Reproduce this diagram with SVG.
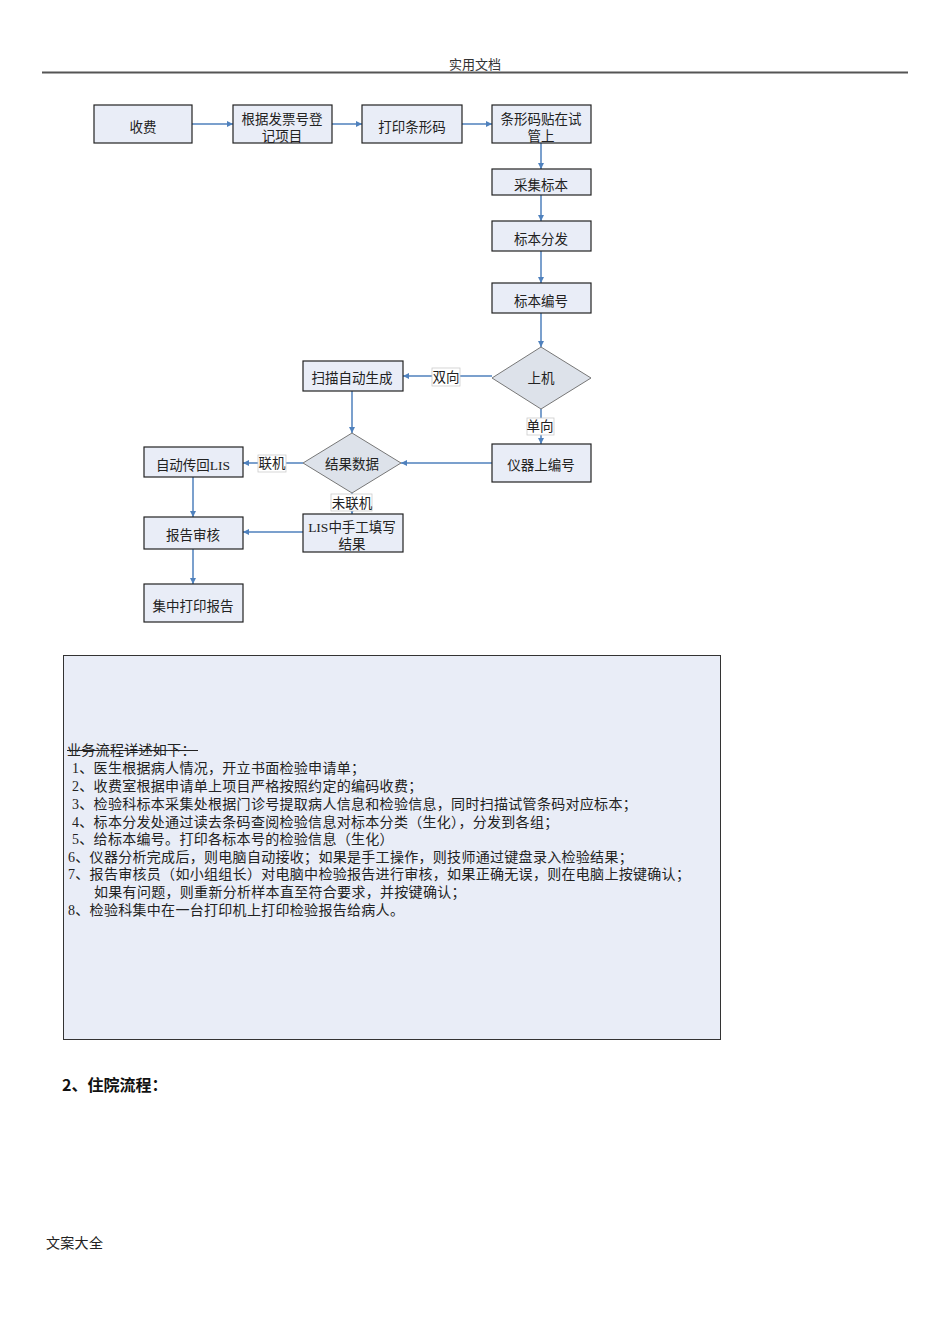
<svg xmlns="http://www.w3.org/2000/svg" width="950" height="1344" viewBox="0 0 950 1344">
<style>
.box{fill:#e9edf7;stroke:#222;stroke-width:1.2}
.t{font-family:"Liberation Serif","Noto Sans CJK SC",serif;font-size:13.5px;fill:#222;text-anchor:middle}
.c{stroke:#4f81bd;stroke-width:1.5;fill:none;marker-end:url(#ah)}
.lb{fill:#fff;stroke:#ccc;stroke-width:0.8}
.p{font-family:"Liberation Serif","Noto Sans CJK SC",serif;font-size:14px;letter-spacing:0.3px;fill:#222}
</style>
<defs>
<marker id="ah" viewBox="0 0 10 10" refX="10" refY="5" markerWidth="6" markerHeight="6" orient="auto" markerUnits="userSpaceOnUse">
<path d="M0,0 L10,5 L0,10 z" fill="#4f81bd"/>
</marker>
</defs>
<rect width="950" height="1344" fill="#fff"/>
<text x="475" y="69" class="t" style="font-size:13px;fill:#333">实用文档</text>
<line x1="42" y1="72.5" x2="908" y2="72.5" stroke="#555" stroke-width="2"/>

<g id="connectors">
<line class="c" x1="192" y1="124" x2="233" y2="124"/>
<line class="c" x1="332" y1="124" x2="362" y2="124"/>
<line class="c" x1="462" y1="124" x2="492" y2="124"/>
<line class="c" x1="541" y1="143" x2="541" y2="169"/>
<line class="c" x1="541" y1="195" x2="541" y2="221"/>
<line class="c" x1="541" y1="251" x2="541" y2="283"/>
<line class="c" x1="541" y1="313" x2="541" y2="347"/>
<line class="c" x1="492" y1="376" x2="403" y2="376"/>
<line class="c" x1="541" y1="409" x2="541" y2="444"/>
<line class="c" x1="352" y1="391" x2="352" y2="433"/>
<line class="c" x1="492" y1="463" x2="401" y2="463"/>
<line class="c" x1="303" y1="463" x2="243" y2="463"/>
<line class="c" x1="352" y1="493" x2="352" y2="514"/>
<line class="c" x1="193" y1="477" x2="193" y2="517"/>
<line class="c" x1="303" y1="532" x2="243" y2="532"/>
<line class="c" x1="193" y1="549" x2="193" y2="584"/>
</g>

<g id="n1"><rect class="box" x="94" y="105" width="98" height="38"/><text class="t" x="143" y="132">收费</text></g>
<g id="n2"><rect class="box" x="233" y="105" width="99" height="38"/><text class="t" x="282" y="124">根据发票号登</text><text class="t" x="282" y="141">记项目</text></g>
<g id="n3"><rect class="box" x="362" y="105" width="100" height="38"/><text class="t" x="412" y="132">打印条形码</text></g>
<g id="n4"><rect class="box" x="492" y="105" width="99" height="38"/><text class="t" x="541" y="124">条形码贴在试</text><text class="t" x="541" y="141">管上</text></g>
<g id="n5"><rect class="box" x="492" y="169" width="99" height="26"/><text class="t" x="541" y="190">采集标本</text></g>
<g id="n6"><rect class="box" x="492" y="221" width="99" height="30"/><text class="t" x="541" y="244">标本分发</text></g>
<g id="n7"><rect class="box" x="492" y="283" width="99" height="30"/><text class="t" x="541" y="306">标本编号</text></g>
<g id="n8"><polygon points="541,347 591,378 541,409 492,378" fill="#dde2ea" stroke="#777" stroke-width="1"/><text class="t" x="541" y="383">上机</text></g>
<g id="n9"><rect class="box" x="303" y="361" width="100" height="30"/><text class="t" x="352" y="383">扫描自动生成</text></g>
<g id="n10"><rect class="box" x="492" y="444" width="99" height="38"/><text class="t" x="541" y="470">仪器上编号</text></g>
<g id="n11"><polygon points="352,433 401,463 352,493 303,463" fill="#dde2ea" stroke="#777" stroke-width="1"/><text class="t" x="352" y="469">结果数据</text></g>
<g id="n12"><rect class="box" x="144" y="447" width="99" height="30"/><text class="t" x="193" y="470">自动传回LIS</text></g>
<g id="n13"><rect class="box" x="303" y="514" width="100" height="38"/><text class="t" x="352" y="532">LIS中手工填写</text><text class="t" x="352" y="549">结果</text></g>
<g id="n14"><rect class="box" x="144" y="517" width="99" height="32"/><text class="t" x="193" y="540">报告审核</text></g>
<g id="n15"><rect class="box" x="144" y="584" width="99" height="38"/><text class="t" x="193" y="611">集中打印报告</text></g>

<g id="labels">
<rect class="lb" x="432" y="368" width="28" height="18"/><text class="t" x="446" y="382">双向</text>
<rect class="lb" x="527" y="418" width="27" height="17"/><text class="t" x="540" y="431">单向</text>
<rect class="lb" x="258" y="455" width="28" height="17"/><text class="t" x="272" y="468">联机</text>
<rect class="lb" x="331" y="494" width="41" height="17"/><text class="t" x="352" y="508">未联机</text>
</g>

<g id="desc">
<rect x="63.5" y="655.5" width="657" height="384" fill="#e9edf7" stroke="#333" stroke-width="1"/>
<text class="p" x="67" y="755">业务流程详述如下：</text>
<line x1="67" y1="750.5" x2="198" y2="750.5" stroke="#222" stroke-width="1"/>
<text class="p" x="72" y="773">1、医生根据病人情况，开立书面检验申请单；</text>
<text class="p" x="72" y="791">2、收费室根据申请单上项目严格按照约定的编码收费；</text>
<text class="p" x="72" y="809">3、检验科标本采集处根据门诊号提取病人信息和检验信息，同时扫描试管条码对应标本；</text>
<text class="p" x="72" y="827">4、标本分发处通过读去条码查阅检验信息对标本分类（生化），分发到各组；</text>
<text class="p" x="72" y="844">5、给标本编号。打印各标本号的检验信息（生化）</text>
<text class="p" x="68" y="862">6、仪器分析完成后，则电脑自动接收；如果是手工操作，则技师通过键盘录入检验结果；</text>
<text class="p" x="68" y="879">7、报告审核员（如小组组长）对电脑中检验报告进行审核，如果正确无误，则在电脑上按键确认；</text>
<text class="p" x="94" y="897">如果有问题，则重新分析样本直至符合要求，并按键确认；</text>
<text class="p" x="68" y="915">8、检验科集中在一台打印机上打印检验报告给病人。</text>
</g>

<text x="62" y="1091" style="font-family:'Noto Sans CJK SC','Noto Sans',sans-serif;font-size:16px;font-weight:bold;fill:#111">2、住院流程：</text>
<text class="p" x="46" y="1248">文案大全</text>
</svg>
